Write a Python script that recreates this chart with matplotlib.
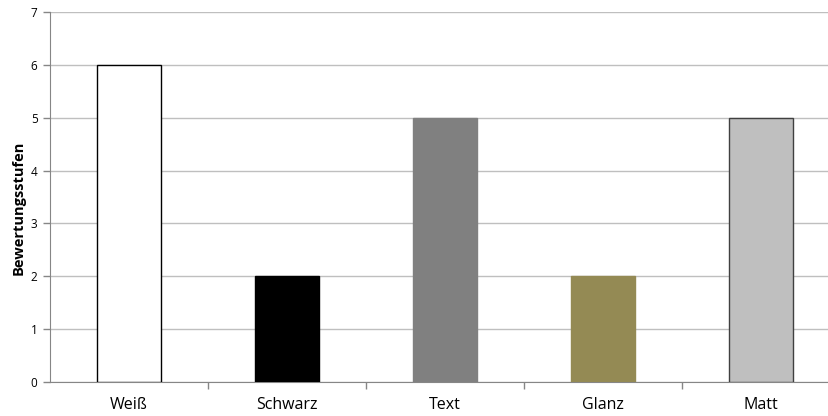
import numpy as np
import matplotlib.pyplot as plt

categories = ["Weiß", "Schwarz", "Text", "Glanz", "Matt"]
ratings = [6, 2, 5, 2, 5]
fill_colors = ["#ffffff", "#000000", "#808080", "#948a54", "#bfbfbf"]
edge_colors = ["#000000", "#000000", "#808080", "#948a54", "#404040"]

plt.rcParams["font.family"] = ["Open Sans", "DejaVu Sans"]

fig = plt.figure(figsize=(8.29, 4.16), dpi=100)
ax = fig.add_axes([50 / 829, 34 / 416, 790 / 829, 370 / 416])

x = np.arange(len(categories))
ax.bar(x, ratings, width=0.4, color=fill_colors, edgecolor=edge_colors,
       linewidth=1.0, zorder=3)

ax.set_xlim(-0.5, len(categories) - 0.5)
ax.set_ylim(0, 7)
ax.set_yticks(range(0, 8))
ax.yaxis.grid(True, color="#bfbfbf", linewidth=1.0, zorder=0)

# category labels centred, tick marks on the category boundaries
ax.set_xticks(x)
ax.set_xticklabels(categories, fontsize=11.5)
ax.tick_params(axis="x", length=0, pad=11)
ax.set_xticks(np.arange(0.5, len(categories) - 0.5), minor=True)
ax.tick_params(axis="x", which="minor", length=5, color="#868686", width=1)
ax.tick_params(axis="y", length=5, color="#868686", width=1, labelsize=8.5, pad=4)

for side in ["top", "right"]:
    ax.spines[side].set_visible(False)
for side in ["left", "bottom"]:
    ax.spines[side].set_color("#868686")

ax.set_ylabel("Bewertungsstufen", fontsize=10.5, fontweight="bold")
ax.yaxis.set_label_coords(-0.031, 0.47)

fig.savefig("out.png", dpi=100)
